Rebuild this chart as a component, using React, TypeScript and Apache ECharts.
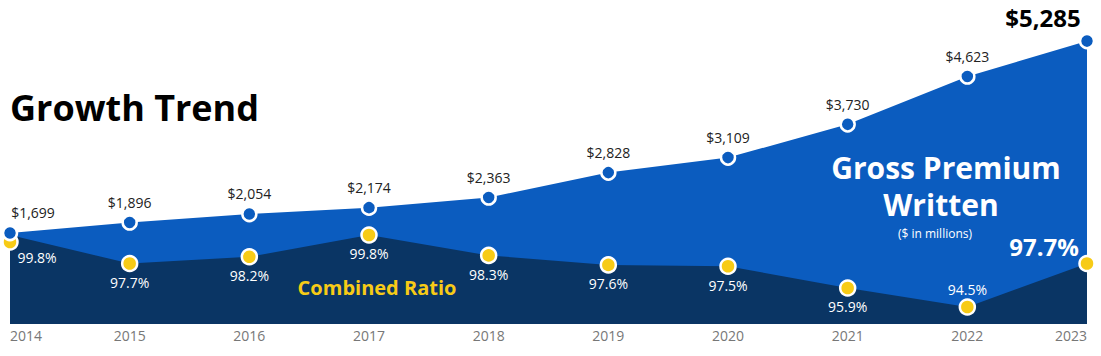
import React, { useEffect, useRef } from "react";
import * as echarts from "echarts";

const years = ["2014", "2015", "2016", "2017", "2018", "2019", "2020", "2021", "2022", "2023"];
const grossPremium = [1699, 1896, 2054, 2174, 2363, 2828, 3109, 3730, 4623, 5285];
const combinedRatio = [99.8, 97.7, 98.2, 99.8, 98.3, 97.6, 97.5, 95.9, 94.5, 97.7];

const BLUE = "#0b5cbf";
const NAVY = "#0a3564";
const YELLOW = "#f7cb16";
const FONT = "'Open Sans', Lato, sans-serif";

export default function App() {
  const ref = useRef<HTMLDivElement>(null);
  useEffect(() => {
    if (!ref.current) return;
    const chart = echarts.init(ref.current, undefined, { renderer: "svg" });
    const last = years.length - 1;

    const gpwDots = grossPremium.map((v, i) => {
      const item: any = { value: v };
      if (i === 0) item.label = { offset: [23, 0] };
      if (i === last)
        item.label = { fontSize: 24, fontWeight: 700, color: "#000", offset: [-44, 0], distance: 3 };
      return item;
    });

    const crDots = combinedRatio.map((v, i) => {
      const item: any = { value: v };
      if (i === 0) {
        item.symbolOffset = [0, 7];
        item.label = { offset: [27, -3] };
      }
      if (i === 8) item.label = { position: "top", distance: 2 };
      if (i === last)
        item.label = { position: "top", fontSize: 24, fontWeight: 700, offset: [-43, 4], distance: 0 };
      return item;
    });

    chart.setOption({
      animation: false,
      textStyle: { fontFamily: FONT },
      grid: { left: 10, right: 14, top: 4, bottom: 32 },
      xAxis: {
        type: "category",
        data: years,
        boundaryGap: false,
        axisLine: { show: false },
        axisTick: { show: false },
        axisLabel: {
          color: "#777",
          fontSize: 14,
          margin: 4,
          fontFamily: FONT,
          alignMinLabel: "left",
          alignMaxLabel: "right",
        },
      },
      yAxis: [
        { type: "value", min: 0, max: 5978, show: false },
        { type: "value", min: 93.25, max: 116.8, show: false },
      ],
      series: [
        {
          type: "line",
          data: grossPremium,
          yAxisIndex: 0,
          showSymbol: false,
          lineStyle: { width: 0 },
          areaStyle: { color: BLUE, opacity: 1 },
          z: 1,
          silent: true,
        },
        {
          type: "line",
          data: combinedRatio,
          yAxisIndex: 1,
          showSymbol: false,
          lineStyle: { width: 0 },
          areaStyle: { color: NAVY, opacity: 1 },
          z: 2,
          silent: true,
        },
        {
          type: "scatter",
          data: crDots,
          yAxisIndex: 1,
          symbol: "circle",
          symbolSize: 15,
          itemStyle: { color: YELLOW, borderColor: "#fff", borderWidth: 2.5, opacity: 1 },
          label: {
            show: true,
            position: "bottom",
            distance: 3,
            color: "#fff",
            fontSize: 14,
            fontFamily: FONT,
            formatter: (p: any) => p.value.toFixed(1) + "%",
          },
          z: 3,
        },
        {
          type: "scatter",
          data: gpwDots,
          yAxisIndex: 0,
          symbol: "circle",
          symbolSize: 14,
          itemStyle: { color: BLUE, borderColor: "#fff", borderWidth: 2.5, opacity: 1 },
          label: {
            show: true,
            position: "top",
            distance: 5,
            color: "#222",
            fontSize: 14,
            fontFamily: FONT,
            formatter: (p: any) => "$" + p.value.toLocaleString("en-US"),
          },
          z: 4,
        },
      ],
      graphic: [
        {
          type: "text",
          x: 10,
          y: 107,
          style: {
            text: "Growth Trend",
            fill: "#000",
            font: `700 36px ${FONT}`,
            textVerticalAlign: "middle",
          },
        },
        {
          type: "text",
          x: 946,
          y: 167,
          style: {
            text: "Gross Premium",
            fill: "#fff",
            font: `700 30px ${FONT}`,
            textAlign: "center",
            textVerticalAlign: "middle",
          },
          z: 10,
        },
        {
          type: "text",
          x: 941,
          y: 204,
          style: {
            text: "Written",
            fill: "#fff",
            font: `700 30px ${FONT}`,
            textAlign: "center",
            textVerticalAlign: "middle",
          },
          z: 10,
        },
        {
          type: "text",
          x: 935,
          y: 233,
          style: {
            text: "($ in millions)",
            fill: "#fff",
            font: `12px ${FONT}`,
            textAlign: "center",
            textVerticalAlign: "middle",
          },
          z: 10,
        },
        {
          type: "text",
          x: 377,
          y: 287,
          style: {
            text: "Combined Ratio",
            fill: YELLOW,
            font: `700 20px ${FONT}`,
            textAlign: "center",
            textVerticalAlign: "middle",
          },
          z: 10,
        },
      ],
    });
    return () => chart.dispose();
  }, []);

  return (
    <div
      ref={ref}
      style={{ position: "fixed", left: 0, top: 0, width: 1101, height: 356, background: "#fff" }}
    />
  );
}
